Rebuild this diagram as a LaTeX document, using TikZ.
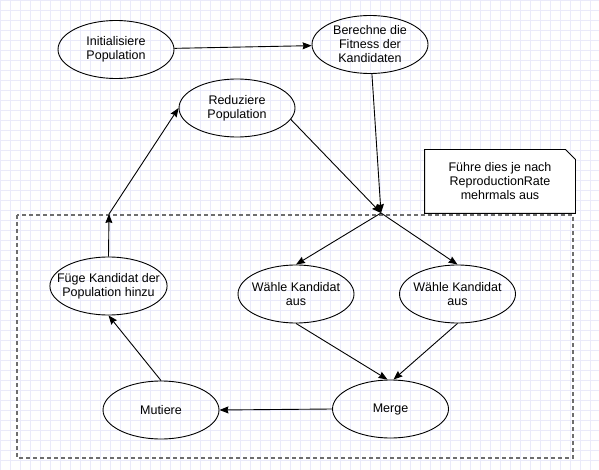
\documentclass[tikz,border=0pt]{standalone}
\usepackage{fontspec}
\setmainfont{Liberation Sans}
\usetikzlibrary{arrows.meta,shapes.geometric}
\definecolor{gridblue}{RGB}{234,234,250}
\definecolor{framegray}{RGB}{110,110,110}

\begin{document}
\begin{tikzpicture}[x=1pt, y=-1pt, ->, >={Stealth[length=9pt,width=7pt,inset=1pt]},
    line width=0.9pt,
    gridline/.style={-, line width=0.5pt, draw=gridblue},
    blob/.style={ellipse, draw, minimum width=116pt, minimum height=58pt,
        inner sep=-10pt, align=center, font=\fontsize{12.5}{14}\selectfont},
    notetext/.style={align=center, minimum width=150pt, minimum height=63pt,
        font=\fontsize{12.5}{14}\selectfont}]
    \useasboundingbox[fill=white] (0,0) rectangle (599,470);
    \foreach \gx in {0,10,...,590} \draw[gridline] (\gx,0) -- (\gx,470);
    \foreach \gy in {0,10,...,470} \draw[gridline] (0,\gy) -- (599,\gy);

    \draw[-, draw=framegray, line width=1.3pt, dash pattern=on 4pt off 3pt]
        (17,215) rectangle (573,458);

    \node[notetext] (note) at (500,181.5) {F\"uhre dies je nach\\ReproductionRate\\mehrmals aus};
    \draw[-, fill=white] (note.north west) -- ([xshift=-10pt]note.north east)
        -- ([yshift=-10pt]note.north east) -- (note.south east) -- (note.south west) -- cycle;
    \node[notetext] at (note) {F\"uhre dies je nach\\ReproductionRate\\mehrmals aus};

    \node[blob] (init) at (116,49.5) {Initialisiere\\Population};
    \node[blob] (fit) at (370,44.5) {Berechne die\\Fitness der\\Kandidaten};
    \node[blob] (red) at (237,108) {Reduziere\\Population};
    \node[blob] (add) at (108.5,286) {F\"uge Kandidat der\\Population hinzu};
    \node[blob] (sel1) at (296,294) {W\"ahle Kandidat\\aus};
    \node[blob] (sel2) at (457.5,294) {W\"ahle Kandidat\\aus};
    \node[blob] (mut) at (161,410) {Mutiere};
    \node[blob] (merge) at (390.5,409) {Merge};
    \coordinate (j) at (381,213);
    \coordinate (h) at (109,214);

    \draw (init) to (fit);
    \draw (fit) to (j);
    \draw (red.-12) to (j);
    \draw (j) to (sel1.north);
    \draw (j) to (sel2.north);
    \draw (sel1.south) to ([xshift=-3pt]merge.north);
    \draw (sel2.south) to ([xshift=3pt]merge.north);
    \draw (merge.west) to (mut.east);
    \draw (mut.north) to (add.south);
    \draw (add.north) to (h);
    \draw (h) to (red.west);
\end{tikzpicture}
\end{document}
